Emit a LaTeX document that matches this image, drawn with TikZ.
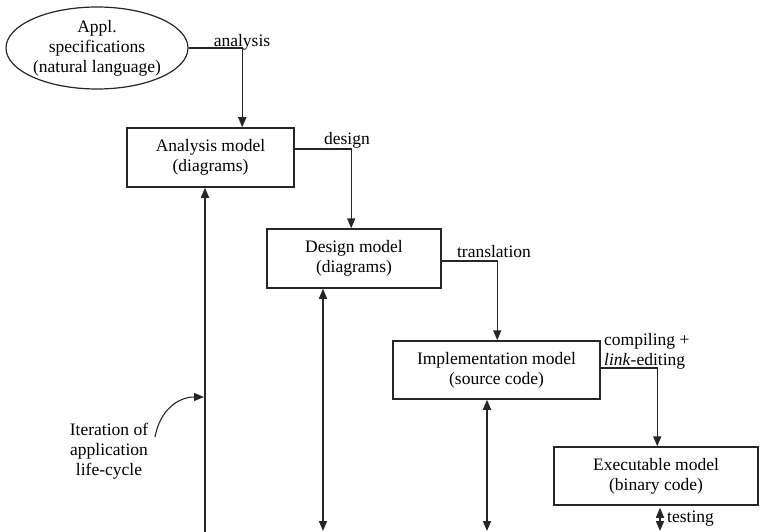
\documentclass[tikz,border=0pt]{standalone}
\usepackage{fontspec}
\setmainfont{Liberation Serif}
\usetikzlibrary{arrows.meta,shapes.geometric,calc}
\begin{document}
\begin{tikzpicture}[x=1pt,y=-1pt,
  every node/.style={font=\fontsize{17.5}{20}\selectfont},
  model/.style={draw=black!85,line width=1.5pt,rectangle,inner sep=0pt,align=center},
  conn/.style={draw=black!85,line width=1.5pt,-{Triangle[length=10pt,width=8pt]}},
  both/.style={draw=black!85,line width=1.5pt,{Triangle[length=10pt,width=8pt]}-{Triangle[length=10pt,width=8pt]}},
  lbl/.style={inner sep=0pt,align=center}]
\useasboundingbox[fill=white] (0,0) rectangle (760,532);
\node[draw=black!85,line width=1.2pt,ellipse,minimum width=182pt,minimum height=82pt,inner sep=0pt,align=center] (spec) at (97,48) {Appl.\\specifications\\(natural language)};
\node[model,minimum width=167pt,minimum height=59pt] (ana) at (210.5,157.5) {Analysis model\\(diagrams)};
\node[model,minimum width=174pt,minimum height=59pt] (des) at (354,258.5) {Design model\\(diagrams)};
\node[model,minimum width=207pt,minimum height=58pt] (imp) at (496.5,370) {Implementation model\\(source code)};
\node[model,minimum width=204pt,minimum height=58pt] (exe) at (656,476) {Executable model\\(binary code)};
\node[lbl] (lana) at (242,42) {analysis};
\node[lbl] (ldes) at (347,140) {design};
\node[lbl] (ltra) at (494,252) {translation};
\node[lbl,anchor=west,align=left] (lcom) at (604,351) {compiling +\\\textit{link}-editing};
\node[lbl,anchor=west] (ltes) at (667,519) {testing};
\node[lbl] (lite) at (109,451) {Iteration of\\application\\life-cycle};
\coordinate (b1) at (205,532);
\coordinate (b2) at (323,531);
\coordinate (b3) at (487,531);
\coordinate (b4) at (660,531);
\coordinate (lp) at (204,397);
\coordinate (cs) at (155,437);
\draw[conn] (spec.east) -| ([xshift=116pt]ana.north west);
\draw[conn] ([yshift=8.5pt]ana.east) -| ([xshift=85pt]des.north west);
\draw[conn] ([yshift=-2.5pt]des.east) -| ([xshift=105pt]imp.north west);
\draw[conn] ([yshift=2pt]imp.east) -| ([xshift=104pt]exe.north west);
\draw[conn] (b1) -- (ana.south -| b1);
\draw[conn,line width=1.1pt] (cs) .. controls (160,410) and (178,397) .. (lp);
\draw[both] (des.south -| b2) -- (b2);
\draw[both] (imp.south -| b3) -- (b3);
\draw[both] ([yshift=-2pt]exe.south -| b4) -- (b4);
\end{tikzpicture}
\end{document}
